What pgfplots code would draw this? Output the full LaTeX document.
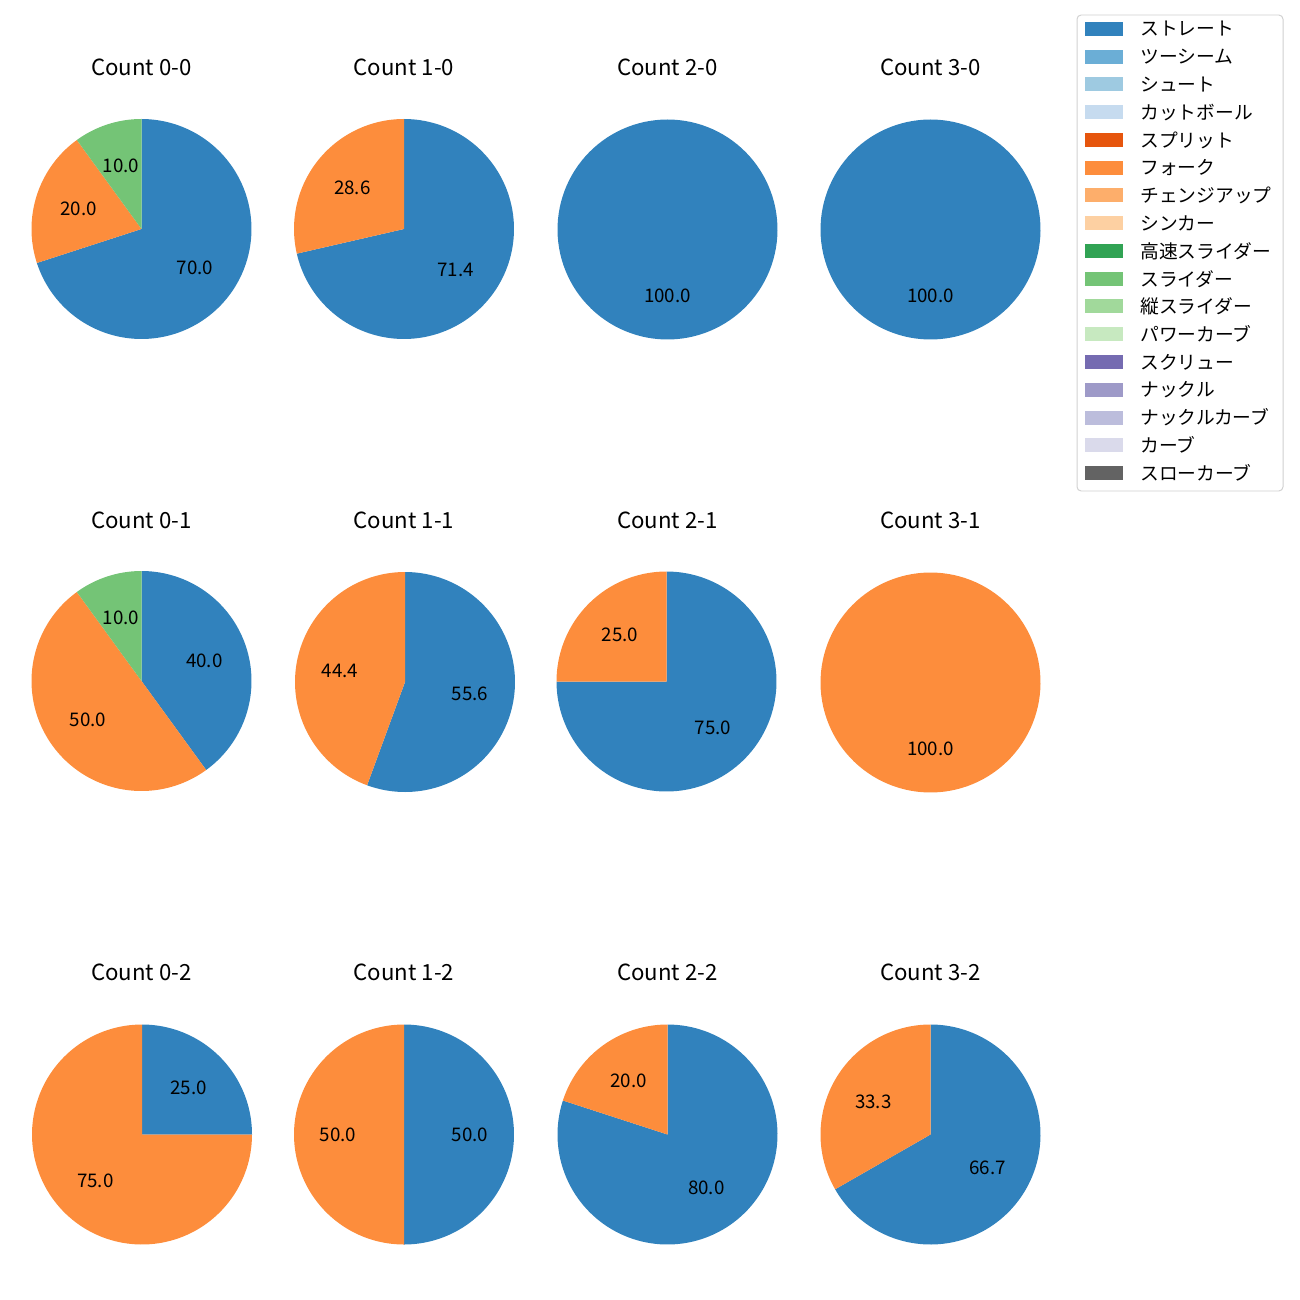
\documentclass[border=0pt]{standalone}
\usepackage{pgfplots}
\pgfplotsset{compat=1.18}
\usepackage{fontspec}
\setmainfont{Noto Sans CJK JP}
\definecolor{c1}{HTML}{3182BD}
\definecolor{c2}{HTML}{6BAED6}
\definecolor{c3}{HTML}{9ECAE1}
\definecolor{c4}{HTML}{C6DBEF}
\definecolor{c5}{HTML}{E6550D}
\definecolor{c6}{HTML}{FD8D3C}
\definecolor{c7}{HTML}{FDAE6B}
\definecolor{c8}{HTML}{FDD0A2}
\definecolor{c9}{HTML}{31A354}
\definecolor{c10}{HTML}{74C476}
\definecolor{c11}{HTML}{A1D99B}
\definecolor{c12}{HTML}{C7E9C0}
\definecolor{c13}{HTML}{756BB1}
\definecolor{c14}{HTML}{9E9AC8}
\definecolor{c15}{HTML}{BCBDDC}
\definecolor{c16}{HTML}{DADAEB}
\definecolor{c17}{HTML}{636363}
% #1 colour, #2 cumulative percent before, #3 percent, #4 label
\newcommand{\slice}[4]{%
  \addplot[fill=#1,draw=none,domain={90-3.6*(#2+#3)}:{90-3.6*(#2)},samples=120,variable=\t]
    ({cos(\t)},{sin(\t)}) -- (axis cs:0,0) -- cycle;
  \node[font=\fontsize{13.5}{15}\selectfont] at (axis cs:{0.6*cos(90-3.6*(#2+#3/2))},{0.6*sin(90-3.6*(#2+#3/2))}) {#4};%
}
\pgfplotsset{pie/.style={hide axis, scale only axis, width=158.4pt, height=158.4pt,
  xmin=-1,xmax=1,ymin=-1,ymax=1, anchor=center, clip=false}}
\newcommand{\pieat}[2]{at={(#1*0.72pt,-#2*0.72pt)}}
\newcommand{\pietitle}[3]{\node[anchor=base,font=\fontsize{16}{18}\selectfont] at (#1*0.72pt,-#2*0.72pt) {#3};}
\begin{document}
\begin{tikzpicture}[x=0.72pt,y=-0.72pt]
\path[use as bounding box] (0,0) rectangle (1300,1300);
% Row 1
\pietitle{141.5}{76}{Count 0-0}
\begin{axis}[pie, \pieat{141.5}{229}]
\slice{c1}{0}{70}{70.0}
\slice{c6}{70}{20}{20.0}
\slice{c10}{90}{10}{10.0}
\end{axis}
\pietitle{404}{76}{Count 1-0}
\begin{axis}[pie, \pieat{404}{229}]
\slice{c1}{0}{71.4}{71.4}
\slice{c6}{71.4}{28.6}{28.6}
\end{axis}
\pietitle{667.5}{76}{Count 2-0}
\begin{axis}[pie, \pieat{667.5}{229.5}]
\slice{c1}{0}{100}{100.0}
\end{axis}
\pietitle{930.5}{76}{Count 3-0}
\begin{axis}[pie, \pieat{930.5}{229.5}]
\slice{c1}{0}{100}{100.0}
\end{axis}
% Row 2
\pietitle{141.5}{528}{Count 0-1}
\begin{axis}[pie, \pieat{141.5}{681}]
\slice{c1}{0}{40}{40.0}
\slice{c6}{40}{50}{50.0}
\slice{c10}{90}{10}{10.0}
\end{axis}
\pietitle{404}{528}{Count 1-1}
\begin{axis}[pie, \pieat{405}{682}]
\slice{c1}{0}{55.6}{55.6}
\slice{c6}{55.6}{44.4}{44.4}
\end{axis}
\pietitle{667.5}{528}{Count 2-1}
\begin{axis}[pie, \pieat{666.5}{681.5}]
\slice{c1}{0}{75}{75.0}
\slice{c6}{75}{25}{25.0}
\end{axis}
\pietitle{930.5}{528}{Count 3-1}
\begin{axis}[pie, \pieat{930.5}{682.5}]
\slice{c6}{0}{100}{100.0}
\end{axis}
% Row 3
\pietitle{141.5}{980}{Count 0-2}
\begin{axis}[pie, \pieat{142}{1134.5}]
\slice{c1}{0}{25}{25.0}
\slice{c6}{25}{75}{75.0}
\end{axis}
\pietitle{404}{980}{Count 1-2}
\begin{axis}[pie, \pieat{404}{1134.5}]
\slice{c1}{0}{50}{50.0}
\slice{c6}{50}{50}{50.0}
\end{axis}
\pietitle{667.5}{980}{Count 2-2}
\begin{axis}[pie, \pieat{667.5}{1134.5}]
\slice{c1}{0}{80}{80.0}
\slice{c6}{80}{20}{20.0}
\end{axis}
\pietitle{930.5}{980}{Count 3-2}
\begin{axis}[pie, \pieat{930.5}{1134.5}]
\slice{c1}{0}{66.7}{66.7}
\slice{c6}{66.7}{33.3}{33.3}
\end{axis}
% Legend
\draw[rounded corners=3pt, draw=black!18, fill=white, line width=0.7pt] (1077,15) rectangle (1283,491);
\foreach \n/\lab [count=\i] in {c1/ストレート,c2/ツーシーム,c3/シュート,c4/カットボール,c5/スプリット,c6/フォーク,c7/チェンジアップ,c8/シンカー,c9/高速スライダー,c10/スライダー,c11/縦スライダー,c12/パワーカーブ,c13/スクリュー,c14/ナックル,c15/ナックルカーブ,c16/カーブ,c17/スローカーブ}{
  \pgfmathsetmacro{\yy}{29+27.75*(\i-1)}
  \fill[\n] (1085,\yy-7) rectangle (1123,\yy+7);
  \node[anchor=west,font=\fontsize{13.5}{15}\selectfont,inner sep=0pt] at (1140,\yy) {\lab};
}
\end{tikzpicture}
\end{document}
